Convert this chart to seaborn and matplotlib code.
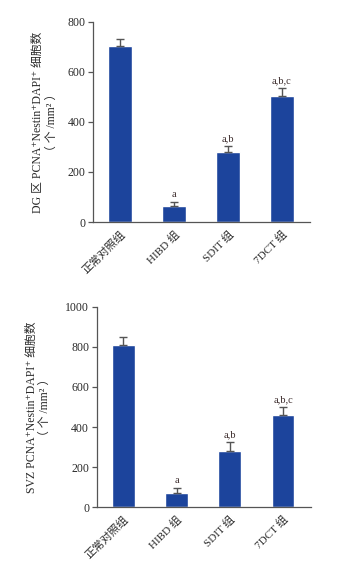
import matplotlib
matplotlib.use("Agg")
import matplotlib.pyplot as plt
import seaborn as sns
import numpy as np
import pandas as pd

groups = ["正常对照组", "HIBD 组", "SDIT 组", "7DCT 组"]
dg_values = [703, 64, 281, 504]
dg_errors = [29, 17, 23, 31]
dg_marks = ["", "a", "a,b", "a,b,c"]
svz_values = [809, 73, 281, 460]
svz_errors = [41, 22, 43, 40]
svz_marks = ["", "a", "a,b", "a,b,c"]
dg_ylabel = "DG 区 PCNA⁺Nestin⁺DAPI⁺ 细胞数\n（ 个 /mm² ）"
svz_ylabel = "SVZ PCNA⁺Nestin⁺DAPI⁺ 细胞数\n（ 个 /mm² ）"
dg_ticks = [0, 200, 400, 600, 800]
svz_ticks = [0, 200, 400, 600, 800, 1000]

sns.set_style("ticks")
fam = ["Liberation Serif", "Noto Sans CJK SC", "DejaVu Sans"]
plt.rcParams["font.family"] = fam

BAR = "#1c449c"
TXT = "#2a2a2a"
fig = plt.figure(figsize=(3.39, 5.71), dpi=100)
ax1 = fig.add_axes([0.2743, 0.6112, 0.9145 - 0.2743, 0.9615 - 0.6112])
ax2 = fig.add_axes([0.2853, 0.1116, 0.9165 - 0.2853, 0.4629 - 0.1116])


def draw(ax, values, errors, marks, ylabel, ticks, ymax, lpad):
    df = pd.DataFrame({"group": groups, "value": values})
    sns.barplot(data=df, x="group", y="value", color=BAR, saturation=1,
                width=0.43, errorbar=None, ax=ax)
    x = np.arange(len(groups))
    ax.errorbar(x, values, yerr=[np.zeros(len(values)), errors], fmt="none",
                ecolor="#555555", elinewidth=1.0, capsize=2.8, capthick=1.0)
    for xi, v, e, m in zip(x, values, errors, marks):
        if m:
            ax.text(xi, v + e + ymax * 0.014, m, ha="center", va="bottom",
                    fontsize=7.5, color="#3a2a2a", family=fam)
    ax.set_xlim(-0.5, 3.52)
    ax.set_ylim(0, ymax)
    ax.set_yticks(ticks)
    ax.set_yticklabels([str(t) for t in ticks], fontsize=8.5, color=TXT)
    ax.set_xlabel("")
    ax.set_ylabel(ylabel, fontsize=8.5, color=TXT, labelpad=lpad,
                  linespacing=1.2)
    ax.set_xticks(x)
    ax.set_xticklabels(groups, rotation=45, ha="right", rotation_mode="anchor",
                       fontsize=8, color=TXT)
    ax.tick_params(axis="x", length=0, pad=5)
    ax.tick_params(axis="y", length=3.5, width=0.9, color="#555555", pad=2)
    sns.despine(ax=ax)
    for s in ("left", "bottom"):
        ax.spines[s].set_color("#555555")
        ax.spines[s].set_linewidth(0.9)


draw(ax1, dg_values, dg_errors, dg_marks, dg_ylabel, dg_ticks, 800, 7)
draw(ax2, svz_values, svz_errors, svz_marks, svz_ylabel, svz_ticks, 1000, 10)

fig.savefig("out.png", dpi=100)
